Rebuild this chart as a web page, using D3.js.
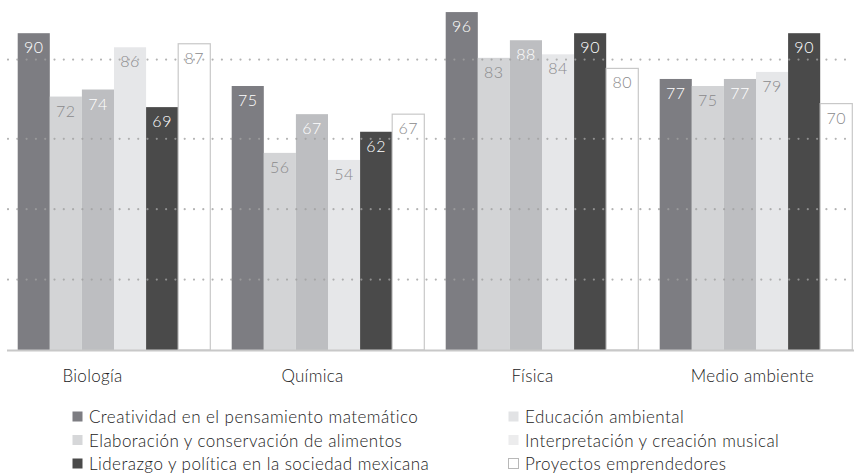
<!DOCTYPE html>
<html>
<head>
<meta charset="utf-8">
<script src="https://cdn.jsdelivr.net/npm/d3@7"></script>
<style>
  html, body { margin: 0; padding: 0; background: #fff; }
  svg { display: block; font-family: Lato, "Noto Sans", sans-serif; font-weight: 300; }
</style>
</head>
<body>
<svg id="chart" width="854" height="473"></svg>
<script>
const categories = ["Biología", "Química", "Física", "Medio ambiente"];
const seriesNames = [
  "Creatividad en el pensamiento matemático",
  "Educación ambiental",
  "Elaboración y conservación de alimentos",
  "Interpretación y creación musical",
  "Liderazgo y política en la sociedad mexicana",
  "Proyectos emprendedores"
];
const creatividad   = [90, 75, 96, 77];
const educacion     = [72, 56, 83, 75];
const elaboracion   = [74, 67, 88, 77];
const interpretacion= [86, 54, 84, 79];
const liderazgo     = [69, 62, 90, 90];
const proyectos     = [87, 67, 80, 70];
const seriesValues = [creatividad, educacion, elaboracion, interpretacion, liderazgo, proyectos];
const gridValues = [20, 40, 60, 82.5];

const colors = ["#7d7d82", "#d3d4d6", "#bdbec1", "#e6e7e9", "#4a4a4a", "#ffffff"];
const legendColors = ["#7d7d82", "#e2e3e5", "#d6d7d9", "#ececed", "#4a4a4a", "#ffffff"];
const labelColors = ["#ffffff", "#8a8a8c", "#ffffff", "#8a8a8c", "#ffffff", "#8a8a8c"];

const svg = d3.select("#chart");

const x0 = d3.scaleBand().domain(categories).range([7, 863]).paddingInner(0.1).paddingOuter(0.05);
const x1 = d3.scaleBand().domain(d3.range(seriesNames.length)).range([0, x0.bandwidth()]);
const y = d3.scaleLinear().domain([0, 100]).range([350, -2]);

// bars
const groups = svg.append("g").selectAll("g").data(categories).join("g")
  .attr("transform", d => `translate(${x0(d)},0)`);

groups.selectAll("rect")
  .data((c, ci) => seriesValues.map((vals, si) => ({si, v: vals[ci]})))
  .join("rect")
  .attr("x", d => x1(d.si))
  .attr("width", x1.bandwidth())
  .attr("y", d => y(d.v))
  .attr("height", d => y(0) - y(d.v))
  .attr("fill", d => colors[d.si])
  .attr("stroke", d => d.si === 5 ? "#c8c8c8" : "none")
  .attr("stroke-width", 1.2);

// gridlines (dotted, drawn over bars)
svg.append("g").selectAll("line").data(gridValues).join("line")
  .attr("x1", 8).attr("x2", 854)
  .attr("y1", d => y(d)).attr("y2", d => y(d))
  .attr("stroke", "#a0a0a0")
  .attr("stroke-opacity", 0.8)
  .attr("stroke-width", 2.2)
  .attr("stroke-linecap", "round")
  .attr("stroke-dasharray", "0 9.3");

// value labels
groups.selectAll("text")
  .data((c, ci) => seriesValues.map((vals, si) => ({si, v: vals[ci]})))
  .join("text")
  .attr("x", d => x1(d.si) + x1.bandwidth() / 2)
  .attr("y", d => y(d.v) + 20)
  .attr("text-anchor", "middle")
  .attr("font-size", 16)
  .attr("font-weight", 300)
  .attr("letter-spacing", 0.5)
  .attr("fill", d => labelColors[d.si])
  .text(d => d.v);

// baseline
svg.append("line")
  .attr("x1", 7).attr("x2", 854)
  .attr("y1", y(0) + 0.5).attr("y2", y(0) + 0.5)
  .attr("stroke", "#c8c8c8").attr("stroke-width", 2);

// category labels
const xl = d3.scalePoint().domain(categories).range([92, 752]);
const xAxis = svg.append("g").attr("transform", "translate(0,382)")
  .call(d3.axisBottom(xl).tickSize(0).tickPadding(0));
xAxis.select(".domain").remove();
xAxis.selectAll("text")
  .attr("dy", 0).attr("y", 0)
  .attr("font-size", 17)
  .attr("font-weight", 300)
  .attr("letter-spacing", 0.3)
  .attr("font-family", "Lato, 'Noto Sans', sans-serif")
  .attr("fill", "#222");

// legend (row-major, 2 columns)
const legendX = [72, 508];
const legendY = [417, 440.5, 464];
const leg = svg.append("g").selectAll("g").data(seriesNames).join("g")
  .attr("transform", (d, i) => `translate(${legendX[i % 2]},${legendY[Math.floor(i / 2)]})`);
leg.append("rect")
  .attr("x", 0.5).attr("y", -5.5).attr("width", 10).attr("height", 10)
  .attr("fill", (d, i) => legendColors[i])
  .attr("stroke", (d, i) => i === 5 ? "#b8b8b8" : "none");
leg.append("text")
  .attr("x", 17).attr("y", 6)
  .attr("font-size", 17)
  .attr("font-weight", 300)
  .attr("letter-spacing", 0.45)
  .attr("fill", "#222")
  .text(d => d);
</script>
</body>
</html>
